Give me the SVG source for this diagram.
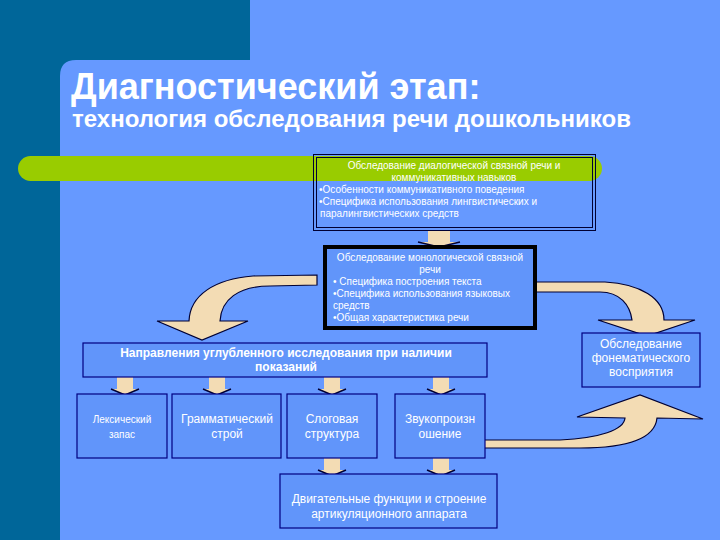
<svg xmlns="http://www.w3.org/2000/svg" width="720" height="540" viewBox="0 0 720 540">
<style>
.t{font-family:"Liberation Sans",Arial,sans-serif;fill:#ffffff}
.box{fill:#6195fa;stroke:#000080;stroke-width:1.2}
.arr{fill:#f3dcb4;stroke:#000033;stroke-width:1.2;stroke-linejoin:miter}
.sa{fill:#f3dcb4}
.sh{fill:none;stroke:#000033;stroke-width:1.5}
</style>
<defs>
<g id="down">
<rect class="sa" x="-8" y="0" width="16" height="12"/>
<polygon class="sa" points="-14,12 14,12 0,18"/>
<polyline class="sh" points="-14,12 0,18 14,12"/>
</g>
</defs>
<rect width="720" height="540" fill="#6699ff"/>
<path d="M0,0 H250 V60 H76 Q60,60 60,76 V540 H0 Z" fill="#006699"/>
<rect x="18" y="156" width="584" height="25" rx="12.5" fill="#99cc00"/>
<g id="title">
<text class="t" x="71" y="99" font-size="36" font-weight="bold">Диагностический этап:</text>
<text class="t" x="72" y="127" font-size="24" font-weight="bold">технология обследования речи дошкольников</text>
</g>
<g id="connectors">
<g transform="translate(439,231)"><rect class="sa" x="-11" y="0" width="22" height="11"/><polygon class="sa" points="-21,11 21,11 0,16"/><polyline class="sh" points="-21,11 0,16 21,11"/></g>
<path class="arr" d="M317,275 L253,276 C215,279 190,295 189,321 L157,321 L202,340 L248,321 L220,321 C221,300 238,286 270,286 L317,285 Z"/>
<path class="arr" d="M524,282 L605,282 C640,284 664,298 664,320 L695,320 L647,336 L598,320 L632,320 C630,305 620,292 600,292 L524,292 Z"/>
<path class="arr" d="M478,440 L560,440 C600,438 624,430 625,418 L577,417 L640,395 L703,419 L657,418 C655,438 630,448 580,448 L478,448 Z"/>
<use href="#down" x="125" y="377"/>
<use href="#down" x="217" y="377"/>
<use href="#down" x="332" y="377"/>
<use href="#down" x="441" y="377"/>
<use href="#down" x="332" y="458"/>
<use href="#down" x="441" y="458"/>
</g>
<g id="dialog">
<rect x="313.5" y="154.5" width="282" height="76" fill="none" stroke="#000033" stroke-width="1"/>
<rect x="316.5" y="157.5" width="276" height="70" fill="none" stroke="#000033" stroke-width="1"/>
<text class="t" font-size="10" text-anchor="middle"><tspan x="454" y="169">Обследование диалогической связной речи и</tspan><tspan x="454" y="181">коммуникативных навыков</tspan></text>
<text class="t" font-size="10"><tspan x="319" y="193">•Особенности коммуникативного поведения</tspan><tspan x="319" y="205">•Специфика использования лингвистических и</tspan><tspan x="320" y="217">паралингвистических средств</tspan></text>
</g>
<g id="monolog">
<rect x="325" y="247" width="210" height="81" fill="#6195fa" stroke="#000000" stroke-width="4"/>
<text class="t" font-size="10" text-anchor="middle"><tspan x="430" y="261">Обследование монологической связной</tspan><tspan x="430" y="273">речи</tspan></text>
<text class="t" font-size="10"><tspan x="333" y="285">• Специфика построения текста</tspan><tspan x="333" y="297">•Специфика использования языковых</tspan><tspan x="333" y="309">средств</tspan><tspan x="333" y="321">•Общая характеристика речи</tspan></text>
</g>
<g id="phonem">
<rect class="box" x="582" y="333" width="118" height="54"/>
<text class="t" font-size="12" text-anchor="middle"><tspan x="641" y="348">Обследование</tspan><tspan x="641" y="362">фонематического</tspan><tspan x="641" y="376">восприятия</tspan></text>
</g>
<g id="directions">
<rect class="box" x="83" y="343" width="404" height="34"/>
<text class="t" font-size="12" font-weight="bold" text-anchor="middle"><tspan x="286" y="357">Направления углубленного исследования при наличии</tspan><tspan x="286" y="371">показаний</tspan></text>
</g>
<g id="lex">
<rect class="box" x="77" y="394" width="90" height="64"/>
<text class="t" font-size="10" text-anchor="middle"><tspan x="122" y="423">Лексический</tspan><tspan x="122" y="438">запас</tspan></text>
</g>
<g id="gram">
<rect class="box" x="172" y="394" width="109" height="64"/>
<text class="t" font-size="12" text-anchor="middle"><tspan x="227" y="423">Грамматический</tspan><tspan x="227" y="438">строй</tspan></text>
</g>
<g id="syll">
<rect class="box" x="287" y="394" width="90" height="64"/>
<text class="t" font-size="12" text-anchor="middle"><tspan x="332" y="423">Слоговая</tspan><tspan x="332" y="438">структура</tspan></text>
</g>
<g id="sound">
<rect class="box" x="395" y="394" width="90" height="64"/>
<text class="t" font-size="12" text-anchor="middle"><tspan x="440" y="423">Звукопроизн</tspan><tspan x="440" y="438">ошение</tspan></text>
</g>
<g id="motor">
<rect class="box" x="280" y="474" width="217" height="54"/>
<text class="t" font-size="12" text-anchor="middle"><tspan x="389" y="503">Двигательные функции и строение</tspan><tspan x="389" y="518">артикуляционного аппарата</tspan></text>
</g>
</svg>
